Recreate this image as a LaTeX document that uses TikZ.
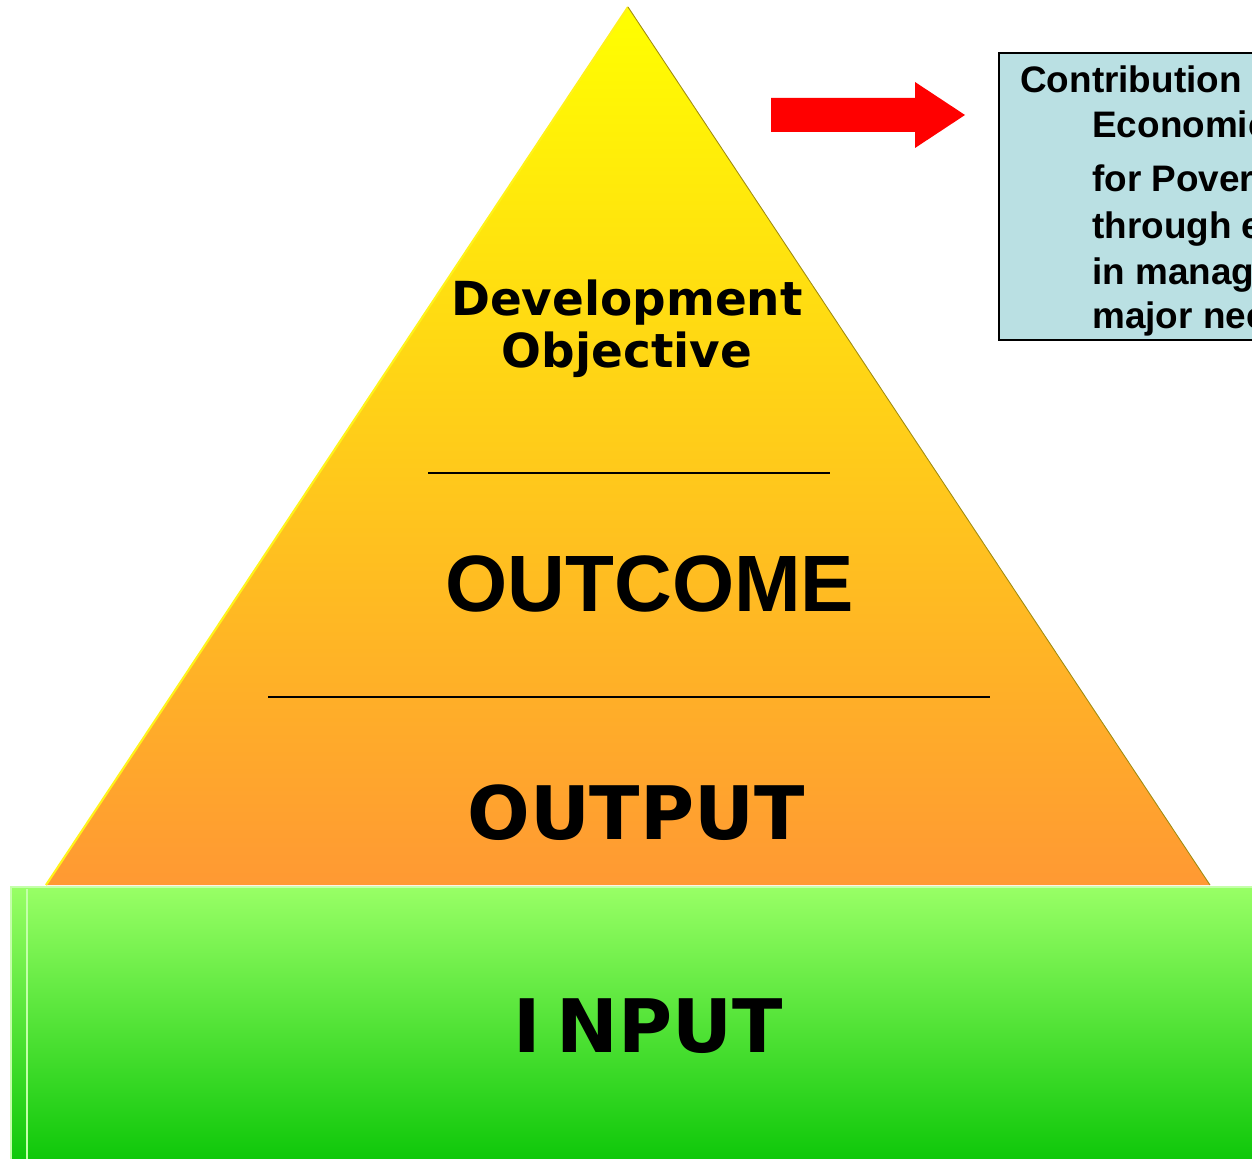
\documentclass[tikz,border=0pt]{standalone}
\usepackage{fontspec}
\setmainfont{Liberation Sans}
\newfontfamily\verdfont{DejaVu Sans}
\usepackage{tikz}
\usetikzlibrary{positioning,calc}
\usepackage{xcolor}
\definecolor{pyrtop}{HTML}{FFFF00}
\definecolor{pyrbot}{HTML}{FF9933}
\definecolor{inptop}{HTML}{99FF66}
\definecolor{inpbot}{HTML}{0FC80A}
\definecolor{inpedge}{HTML}{C4FFAA}
\definecolor{boxfill}{HTML}{BAE0E3}
\definecolor{edgedark}{HTML}{A08C10}
\tikzset{
  level/.style={font=\bfseries\fontsize{45.5}{48}\selectfont},
  widelevel/.style={font=\verdfont\bfseries\fontsize{42}{48}\selectfont},
  goaltext/.style={anchor=base west,inner sep=0pt,font=\bfseries\fontsize{21}{24}\selectfont}
}

\begin{document}
\begin{tikzpicture}[x=0.02cm,y=-0.02cm]
  \useasboundingbox (0,0) rectangle (1252,1159);
  \clip (0,0) rectangle (1252,1159);
  % pyramid
  \shade[top color=pyrtop,bottom color=pyrbot] (628,7) -- (1210,885) -- (46,885) -- cycle;
  \draw[yellow!90!white,line width=1.2pt] (46,885) -- (628,7);
  \draw[edgedark,line width=0.5pt] (628,7) -- (1210,885);
  \draw[line width=1.1pt] (428,473) -- (830,473);
  \draw[line width=1.1pt] (268,697) -- (990,697);
  \node[font=\verdfont\bfseries\fontsize{26.7}{29.5}\selectfont,align=center] (devobj) at (627,329) {Development\\Objective};
  \node[level] (outcome) at (650,584) {OUTCOME};
  \node[widelevel] (output) at (636,813) {OUTPUT};
  % input base
  \shade[top color=inptop,bottom color=inpbot] (10,886) rectangle (1252,1159);
  \draw[inpedge,line width=1.5pt] (11,1159) -- (11,887) -- (1252,887);
  \draw[inpedge,line width=1.2pt] (27,889) -- (27,1159);
  \node[widelevel] (input) at (648,1026) {I\kern0.22em NPUT};
  % arrow and goal box
  \fill[red] (771,98) -- (915,98) -- (915,82) -- (965,115) -- (915,148) -- (915,132) -- (771,132) -- cycle;
  \draw[fill=boxfill,line width=1.1pt] (999,53) rectangle (1270,340);
  \node[goaltext] (g1) at (1020,93) {Contribution};
  \node[goaltext] (g2) at (1092,138) {Economic};
  \node[goaltext] (g3) at (1092,192) {for Pover};
  \node[goaltext] (g4) at (1092,238) {through e};
  \node[goaltext] (g5) at (1092,284) {in manag};
  \node[goaltext] (g6) at (1092,328) {major nee};
\end{tikzpicture}
\end{document}
